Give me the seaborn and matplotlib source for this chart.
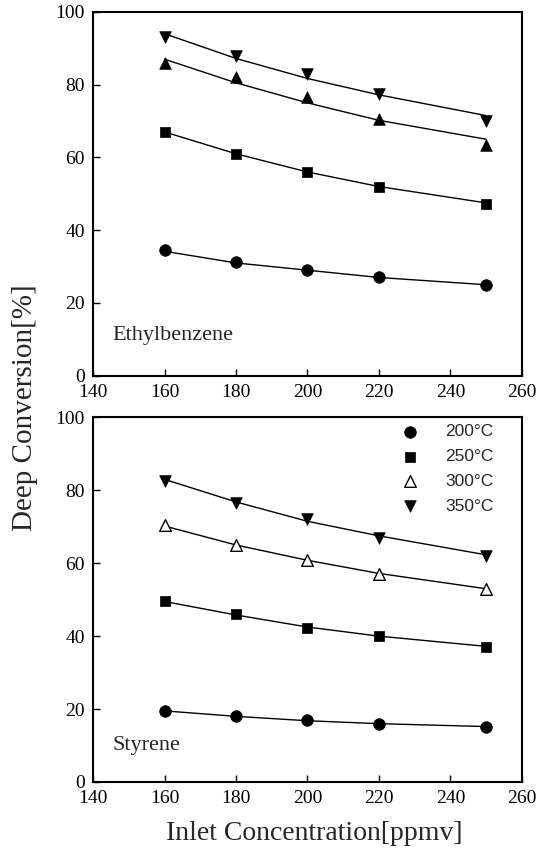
import pandas as pd
import matplotlib.pyplot as plt
import seaborn as sns

# inlet concentration [ppmv]
conc = [160, 180, 200, 220, 250]
temps = ["200°C", "250°C", "300°C", "350°C"]

# Ethylbenzene measured points
eb_200 = [34.5, 31.3, 29.0, 27.0, 24.8]
eb_250 = [67.0, 61.0, 56.0, 52.0, 47.2]
eb_300 = [86.0, 82.0, 76.5, 70.5, 63.5]
eb_350 = [93.0, 88.0, 83.0, 77.5, 70.0]
# Ethylbenzene fitted curves
eb_fit_200 = [34.2, 31.0, 29.0, 27.0, 25.0]
eb_fit_250 = [67.0, 61.0, 56.0, 52.0, 47.5]
eb_fit_300 = [87.0, 80.5, 75.0, 70.2, 65.0]
eb_fit_350 = [94.0, 87.2, 81.7, 77.2, 71.5]

# Styrene measured points
st_200 = [19.5, 18.0, 17.0, 16.0, 15.0]
st_250 = [49.5, 46.0, 42.3, 40.0, 37.0]
st_300 = [70.5, 65.0, 61.0, 57.0, 53.0]
st_350 = [82.5, 76.5, 72.0, 67.0, 62.0]
# Styrene fitted curves
st_fit_200 = [19.5, 18.0, 16.8, 16.0, 15.2]
st_fit_250 = [49.5, 45.8, 42.5, 40.0, 37.2]
st_fit_300 = [70.2, 65.0, 60.8, 57.2, 53.0]
st_fit_350 = [83.0, 76.8, 71.5, 67.5, 62.3]


def make_frame(series):
    rows = []
    for t, vals in zip(temps, series):
        for c, v in zip(conc, vals):
            rows.append({"conc": c, "temp": t, "value": v})
    return pd.DataFrame(rows)


sns.set_theme(style="ticks")
plt.rcParams["font.family"] = ["Liberation Serif", "DejaVu Serif"]

fig = plt.figure(figsize=(5.51, 8.5), dpi=100)
ax1 = fig.add_axes([0.169, 0.558, 0.778, 0.428])
ax2 = fig.add_axes([0.169, 0.080, 0.778, 0.429])

markers = {"200°C": "o", "250°C": "s", "300°C": "^", "350°C": "v"}

panels = [
    (ax1, [eb_200, eb_250, eb_300, eb_350],
     [eb_fit_200, eb_fit_250, eb_fit_300, eb_fit_350], "Ethylbenzene", 0.11, False),
    (ax2, [st_200, st_250, st_300, st_350],
     [st_fit_200, st_fit_250, st_fit_300, st_fit_350], "Styrene", 0.10, True),
]

for ax, pts, fits, name, name_y, open_tri in panels:
    dp = make_frame(pts)
    df = make_frame(fits)
    sns.lineplot(data=df, x="conc", y="value", units="temp", estimator=None,
                 color="black", lw=1.0, ax=ax, legend=False)
    for t in temps:
        sub = dp[dp["temp"] == t]
        hollow = open_tri and t == "300°C"
        sns.scatterplot(data=sub, x="conc", y="value", marker=markers[t],
                        s=70 if t != "250°C" else 60,
                        color="white" if hollow else "black",
                        edgecolor="black", linewidth=1.0 if hollow else 0.5,
                        ax=ax, label=t, legend=False, zorder=3)
    ax.set_xlim(140, 260)
    ax.set_ylim(0, 100)
    ax.set_xticks(range(140, 261, 20))
    ax.set_yticks(range(0, 101, 20))
    ax.tick_params(direction="in", length=5, width=1, labelsize=14,
                   colors="black")
    ax.tick_params(axis="x", pad=6)
    ax.tick_params(axis="y", pad=6)
    for sp in ax.spines.values():
        sp.set_linewidth(1.5)
        sp.set_color("black")
    ax.set_xlabel("")
    ax.set_ylabel("")
    ax.text(0.045, name_y, name, transform=ax.transAxes, fontsize=16,
            va="center", ha="left")

handles, labels = ax2.get_legend_handles_labels()
ax2.legend(handles, labels, loc="upper right", frameon=False,
           prop={"family": "Liberation Sans", "size": 12.5},
           handletextpad=1.0, labelspacing=0.55, borderaxespad=0.0,
           bbox_to_anchor=(0.95, 1.0))

fig.text(0.045, 0.52, "Deep Conversion[%]", rotation=90, fontsize=21,
         ha="center", va="center")
fig.text(0.57, 0.02, "Inlet Concentration[ppmv]", fontsize=20,
         ha="center", va="center")

fig.savefig("out.png", dpi=100)
